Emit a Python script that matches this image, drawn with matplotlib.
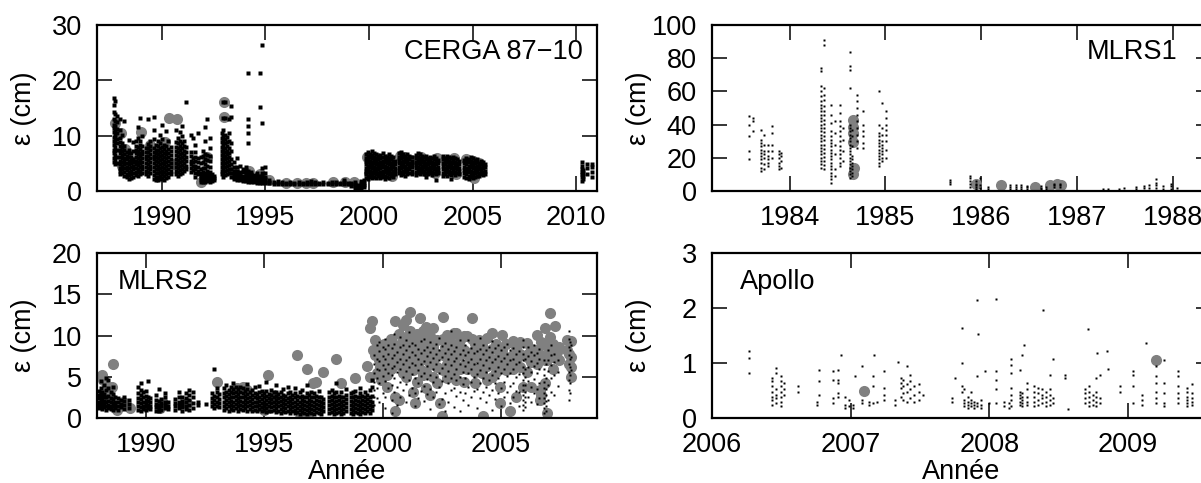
import matplotlib.pyplot as plt

plt.rcParams['font.family'] = ['Liberation Sans', 'DejaVu Sans']

# ---- CERGA 87-10 : (date, [epsilon values in cm]) ----
cerga_cols = [
    (1987.68, [5.2, 6.0, 6.8, 7.5, 8.3, 9.0, 9.8, 10.6, 11.4, 12.0, 13.0, 14.2, 15.5, 16.8]),
    (1987.76, [4.8, 5.6, 6.5, 7.2, 8.0, 8.8, 9.5, 10.2, 11.0, 11.8, 12.6, 14.0, 16.2]),
    (1987.84, [5.0, 6.2, 7.4, 8.6, 9.4, 10.4, 11.2, 12.4, 13.5]),
    (1987.98, [3.0, 3.6, 4.2, 4.9, 5.5, 6.1, 6.8, 7.5, 8.1, 8.8, 9.6, 11.0, 13.0]),
    (1988.08, [3.2, 3.9, 4.6, 5.2, 5.9, 6.5, 7.2, 7.9, 8.6, 10.1]),
    (1988.18, [2.8, 3.5, 4.1, 4.8, 5.4, 6.0, 6.7, 7.4, 8.2, 12.6]),
    (1988.32, [2.5, 3.1, 3.8, 4.4, 5.0, 5.7, 6.3, 7.0]),
    (1988.42, [2.2, 2.9, 3.5, 4.2, 4.8, 5.5, 6.1, 6.8, 7.5, 9.3]),
    (1988.52, [2.4, 3.0, 3.7, 4.3, 5.0, 5.6, 6.2, 6.9]),
    (1988.62, [2.6, 3.2, 3.9, 4.5, 5.2, 5.8, 7.3, 8.8]),
    (1988.76, [2.9, 3.5, 4.2, 4.8, 5.5, 6.1, 6.8, 7.4, 8.2, 9.0]),
    (1988.86, [2.7, 3.4, 4.0, 4.7, 5.3, 6.0, 6.6, 7.3, 8.0, 9.6, 11.5]),
    (1988.96, [3.0, 3.7, 4.3, 5.0, 5.6, 6.3, 6.9, 7.6, 8.3, 9.0, 13.2]),
    (1989.06, [3.3, 4.0, 4.6, 5.3, 5.9, 6.6, 7.3, 8.1, 10.0]),
    (1989.22, [3.0, 3.7, 4.4, 5.0, 5.7, 6.4, 7.1, 7.8]),
    (1989.32, [2.8, 3.5, 4.2, 4.9, 5.6, 6.3, 7.0, 7.7, 8.5, 13.1]),
    (1989.42, [3.2, 3.9, 4.6, 5.3, 6.0, 6.7, 7.4, 8.2, 9.0]),
    (1989.62, [2.2, 2.9, 3.6, 4.3, 5.0, 5.7, 6.4, 7.1, 7.8, 9.4, 11.0, 13.3]),
    (1989.72, [2.0, 2.6, 3.3, 4.0, 4.7, 5.4, 6.1, 6.8, 7.5, 8.3]),
    (1989.82, [1.9, 2.5, 3.2, 3.9, 4.6, 5.3, 6.0, 6.7, 7.4, 8.1, 9.0]),
    (1989.92, [2.1, 2.8, 3.5, 4.2, 4.9, 5.6, 6.3, 7.0, 7.7, 8.6, 10.2]),
    (1990.02, [2.3, 3.0, 3.7, 4.4, 5.1, 5.8, 6.5, 7.2, 8.0, 9.4, 12.0]),
    (1990.12, [2.0, 2.7, 3.4, 4.1, 4.8, 5.5, 6.2, 6.9, 7.6, 8.4]),
    (1990.22, [2.4, 3.1, 3.8, 4.5, 5.2, 5.9, 6.6, 7.3, 8.1, 10.8]),
    (1990.32, [2.6, 3.3, 4.0, 4.7, 5.4, 6.1, 6.8, 7.6, 9.0]),
    (1990.42, [3.0, 3.7, 4.4, 5.1, 5.8, 6.5, 7.3, 8.0]),
    (1990.68, [3.0, 3.7, 4.4, 5.1, 5.8, 6.5, 7.2, 8.0, 8.8, 11.0]),
    (1990.78, [2.8, 3.5, 4.2, 4.9, 5.6, 6.3, 7.0, 7.8, 8.6, 9.6]),
    (1990.88, [3.1, 3.8, 4.5, 5.2, 5.9, 6.6, 7.4, 8.2, 9.1, 10.6]),
    (1990.98, [3.3, 4.0, 4.7, 5.4, 6.1, 6.9, 7.7, 8.6, 10.0, 11.8]),
    (1991.08, [3.6, 4.3, 5.0, 5.7, 6.5, 7.3, 8.1, 9.0]),
    (1991.18, [3.9, 4.6, 5.4, 6.2, 7.0, 8.0, 16.0]),
    (1991.40, [3.4, 4.1, 4.8, 5.5, 6.3, 7.0, 10.2]),
    (1991.50, [3.8, 4.5, 5.2, 6.0, 9.5]),
    (1991.62, [2.5, 3.2, 3.9, 4.6, 5.4, 6.2, 7.0, 8.4]),
    (1991.76, [3.0, 3.7, 4.4, 5.2, 6.0, 10.5]),
    (1991.90, [1.6, 2.0, 2.4, 2.8, 3.3, 4.0, 5.0, 6.1]),
    (1992.00, [1.7, 2.1, 2.5, 2.9, 3.4, 4.2, 5.3, 6.4, 7.2]),
    (1992.10, [1.6, 2.0, 2.4, 2.8, 3.3, 4.1, 4.9, 5.8, 6.6, 9.0, 11.5]),
    (1992.20, [1.8, 2.2, 2.6, 3.0, 3.6, 4.5, 5.6, 6.5, 13.0]),
    (1992.30, [1.7, 2.1, 2.5, 2.9, 3.5, 4.4, 5.4, 6.3, 7.8, 9.6]),
    (1992.42, [1.8, 2.2, 2.6, 3.1]),
    (1992.52, [1.9, 2.3, 2.7]),
    (1992.88, [3.0, 3.7, 4.4, 5.1, 5.8, 6.5, 7.2, 8.0, 8.8, 9.6, 10.4]),
    (1992.96, [2.6, 3.3, 4.0, 4.7, 5.4, 6.1, 6.8, 7.5, 8.3, 9.1, 9.9, 11.0, 13.2, 16.0]),
    (1993.04, [2.9, 3.6, 4.3, 5.0, 5.7, 6.4, 7.1, 7.8, 8.6, 9.4, 10.2, 13.2, 16.0]),
    (1993.12, [3.1, 3.8, 4.5, 5.2, 5.9, 6.6, 7.3, 8.1, 8.9, 9.8]),
    (1993.22, [3.3, 4.0, 4.7, 5.4, 6.1, 6.9, 7.8, 9.0, 10.5, 13.0]),
    (1993.34, [2.6, 3.3, 4.0, 4.8, 5.8, 7.2, 8.6, 13.3, 15.3]),
    (1993.50, [2.1, 2.6, 3.1, 3.7, 4.4, 5.3]),
    (1993.62, [2.0, 2.5, 3.0, 3.6, 4.3, 6.0]),
    (1993.76, [1.9, 2.4, 2.9, 3.5, 4.6]),
    (1993.90, [1.8, 2.3, 2.8, 3.4, 4.0]),
    (1994.04, [1.8, 2.2, 2.7, 3.2, 3.8, 4.4]),
    (1994.18, [1.7, 2.1, 2.6, 3.1, 3.6, 8.7, 10.4, 11.8, 13.0, 21.3]),
    (1994.32, [1.6, 2.0, 2.5, 3.0, 3.5]),
    (1994.46, [1.6, 2.0, 2.4, 2.9]),
    (1994.60, [1.5, 1.9, 2.3, 2.8, 3.3]),
    (1994.72, [1.5, 1.9, 2.3, 2.8, 15.1, 21.3]),
    (1994.84, [1.4, 1.8, 2.2, 2.7, 3.3, 4.2, 12.2, 26.3]),
    (1995.00, [1.4, 1.7, 2.1, 2.6, 3.2, 4.3]),
    (1995.16, [1.4, 1.7, 2.0]),
    (1995.4, [1.3, 1.6]), (1995.6, [1.2, 1.5, 1.8]), (1995.8, [1.3, 1.6]),
    (1996.0, [1.2, 1.5]), (1996.2, [1.3, 1.7]), (1996.4, [1.2, 1.5]),
    (1996.6, [1.3, 1.6]), (1996.8, [1.2, 1.5]), (1997.0, [1.3, 1.6]),
    (1997.2, [1.2, 1.5, 1.8]), (1997.4, [1.3, 1.6]), (1997.6, [1.2, 1.5]),
    (1997.8, [1.3, 1.6]), (1998.0, [1.2, 1.5]), (1998.2, [1.3, 1.7]),
    (1998.4, [1.2, 1.6]), (1998.6, [1.3, 1.5]), (1998.8, [1.2, 1.6, 1.9]),
    (1999.0, [1.3, 1.5]),
    (1999.15, [0.9, 1.2, 1.5]), (1999.3, [0.6, 0.9, 1.2, 1.6]),
    (1999.45, [0.5, 0.8, 1.1]), (1999.6, [0.6, 0.9, 1.3, 1.8]),
    (1999.75, [0.7, 1.0, 1.4, 2.0]),
    (1999.85, [2.4, 3.0, 3.6, 4.2, 4.8, 5.4, 6.0, 6.6]),
    (1999.95, [2.2, 2.8, 3.4, 4.0, 4.6, 5.2, 5.8, 6.4, 7.0]),
    (2000.05, [2.5, 3.1, 3.7, 4.3, 4.9, 5.5, 6.1, 6.7]),
    (2000.15, [2.3, 2.9, 3.5, 4.1, 4.7, 5.3, 5.9, 6.5, 7.3]),
    (2000.25, [2.6, 3.2, 3.8, 4.4, 5.0, 5.6, 6.2, 6.8]),
    (2000.35, [2.4, 3.0, 3.6, 4.2, 4.8, 5.4, 6.0, 6.6]),
    (2000.45, [2.7, 3.3, 3.9, 4.5, 5.1, 5.7, 6.3]),
    (2000.55, [2.3, 2.9, 3.5, 4.1, 4.7, 5.3, 5.9, 6.5]),
    (2000.65, [2.5, 3.1, 3.7, 4.3, 4.9, 5.5, 6.1, 6.8]),
    (2000.75, [2.2, 2.8, 3.4, 4.0, 4.6, 5.2, 5.8, 6.4]),
    (2000.85, [2.6, 3.2, 3.8, 4.4, 5.0, 5.6, 6.2]),
    (2000.95, [2.4, 3.0, 3.6, 4.2, 4.8, 5.4, 6.0, 6.7]),
    (2001.05, [2.7, 3.3, 3.9, 4.5, 5.1, 5.7, 6.3]),
    (2001.15, [2.5, 3.1, 3.7, 4.3, 4.9, 5.5, 6.1]),
    (2001.25, [3.0, 3.6, 4.2, 4.8, 5.4]),
    (2001.45, [3.2, 3.8, 4.4, 5.0, 5.6, 6.2, 6.8]),
    (2001.55, [2.9, 3.5, 4.1, 4.7, 5.3, 5.9, 6.5, 7.0]),
    (2001.65, [3.1, 3.7, 4.3, 4.9, 5.5, 6.1, 6.7]),
    (2001.75, [2.8, 3.4, 4.0, 4.6, 5.2, 5.8, 6.4]),
    (2001.85, [3.0, 3.6, 4.2, 4.8, 5.4, 6.0, 6.6]),
    (2001.95, [3.3, 3.9, 4.5, 5.1, 5.7, 6.3]),
    (2002.05, [3.1, 3.7, 4.3, 4.9, 5.5, 6.1]),
    (2002.25, [2.9, 3.5, 4.1, 4.7, 5.3, 5.9, 6.5]),
    (2002.35, [3.2, 3.8, 4.4, 5.0, 5.6, 6.2, 6.9]),
    (2002.45, [3.0, 3.6, 4.2, 4.8, 5.4, 6.0, 6.6]),
    (2002.55, [3.4, 4.0, 4.6, 5.2, 5.8, 6.4]),
    (2002.65, [3.1, 3.7, 4.3, 4.9, 5.5, 6.1]),
    (2002.75, [2.6, 3.3, 3.9, 4.5, 5.1, 5.7, 6.3]),
    (2002.85, [3.0, 3.6, 4.2, 4.8, 5.4, 6.0]),
    (2002.95, [3.2, 3.8, 4.4, 5.0, 5.6, 6.2]),
    (2003.05, [2.9, 3.5, 4.1, 4.7, 5.3, 5.9]),
    (2003.15, [3.3, 3.9, 4.5, 5.1, 5.7, 6.3]),
    (2003.25, [1.9, 3.0, 3.6, 4.2, 4.8, 5.4, 6.0]),
    (2003.35, [3.2, 3.8, 4.4, 5.0, 5.6]),
    (2003.55, [2.7, 3.3, 3.9, 4.5, 5.1, 5.7, 6.3]),
    (2003.65, [3.0, 3.6, 4.2, 4.8, 5.4, 6.0]),
    (2003.75, [2.8, 3.4, 4.0, 4.6, 5.2, 5.8, 6.4]),
    (2003.85, [3.1, 3.7, 4.3, 4.9, 5.5, 6.1]),
    (2003.95, [2.2, 2.9, 3.5, 4.1, 4.7, 5.3, 5.9]),
    (2004.05, [3.2, 3.8, 4.4, 5.0, 5.6, 6.2]),
    (2004.15, [2.9, 3.5, 4.1, 4.7, 5.3, 5.9]),
    (2004.25, [3.3, 3.9, 4.5, 5.1, 5.7]),
    (2004.35, [3.0, 3.6, 4.2, 4.8, 5.4]),
    (2004.6, [2.6, 3.2, 3.8, 4.4, 5.0, 5.6]),
    (2004.7, [2.4, 3.0, 3.6, 4.2, 4.8, 5.4, 6.0]),
    (2004.8, [2.2, 2.8, 3.4, 4.0, 4.6, 5.2, 5.8]),
    (2004.9, [2.5, 3.1, 3.7, 4.3, 4.9, 5.5, 6.1]),
    (2005.0, [2.3, 2.9, 3.5, 4.1, 4.7, 5.3, 5.9]),
    (2005.1, [2.6, 3.2, 3.8, 4.4, 5.0, 5.6]),
    (2005.2, [2.8, 3.4, 4.0, 4.6, 5.2, 5.8]),
    (2005.3, [2.7, 3.3, 3.9, 4.5, 5.1]),
    (2005.4, [3.0, 3.6, 4.2, 4.8, 5.4]),
    (2005.5, [2.9, 3.5, 4.1, 4.7, 5.3]),
    (2005.6, [3.1, 3.7, 4.3, 4.9]),
    (2010.28, [1.8, 2.5, 3.0, 3.5, 4.0, 4.6, 5.3]),
    (2010.32, [2.2, 2.8, 3.3, 3.8]),
    (2010.5, [3.0, 4.2, 4.8]),
    (2010.78, [2.5, 3.4, 4.3, 4.9]),
]
cerga_grey_t = [1987.75, 1988.03, 1988.2, 1988.08, 1989.0, 1989.43, 1988.77, 1990.33,
                1990.74, 1990.16, 1989.75, 1990.0, 1990.57, 1991.9, 1992.2, 1993.0,
                1993.0, 1993.5, 1994.2, 1994.75, 1995.15, 1996.0, 1996.5, 1996.97,
                1997.3, 1998.28, 1998.85, 1999.26,
                1999.9, 2000.0, 2000.1, 2000.4, 2000.5, 2000.9, 2001.1, 2001.5, 2001.7,
                2002.0, 2002.5, 2002.6, 2002.7, 2003.2, 2003.3, 2003.7, 2004.1, 2004.2,
                2004.7, 2005.0, 2005.05, 2005.3]
cerga_grey_e = [12.3, 10.4, 7.6, 4.5, 10.7, 8.4, 5.5, 13.2,
                13.0, 8.9, 6.1, 3.7, 4.9, 1.6, 6.1, 16.1,
                13.3, 3.6, 3.7, 3.0, 1.9, 1.5, 1.5, 1.5,
                1.5, 1.6, 1.6, 1.7,
                6.2, 3.3, 4.6, 5.9, 3.0, 5.8, 2.7, 6.4, 6.2,
                5.6, 6.1, 4.8, 3.6, 3.2, 5.9, 5.5, 6.0, 3.0,
                5.7, 5.4, 2.3, 5.0]

# ---- MLRS1 ----
mlrs1_cols = [
    (1983.58, [19.5, 24, 33, 40, 45]),
    (1983.62, [36, 42, 44]),
    (1983.70, [12, 14, 17, 19, 21, 23, 25, 27, 29, 31, 37]),
    (1983.73, [13, 16, 20, 22, 24, 28, 34]),
    (1983.77, [15, 17, 19, 21, 24, 28]),
    (1983.82, [20, 24, 28, 35, 39]),
    (1983.89, [13, 15, 17, 20, 22, 24]),
    (1983.91, [14, 18, 21, 23]),
    (1984.33, [14, 16, 18, 20, 22, 24, 26, 28, 30, 32, 34, 36, 38, 40, 42, 44, 46, 48,
               50, 52, 54, 57, 60, 63, 72, 74]),
    (1984.36, [13, 15.5, 18, 20.5, 23, 25.5, 28, 30.5, 33, 35.5, 38, 40.5, 43, 45.5,
               48, 51, 55, 58, 62, 88, 91]),
    (1984.43, [5, 7, 9, 11, 13, 15, 17, 19, 21, 23, 25, 27, 29, 31, 33, 36, 41, 46, 52]),
    (1984.47, [9, 13, 22, 28, 35, 42]),
    (1984.53, [15, 17, 20, 22, 25, 27, 30, 33, 36, 39, 42, 47, 52]),
    (1984.56, [18, 24, 31, 38]),
    (1984.63, [8, 10, 12, 14, 16, 18, 20, 22, 24, 26, 28, 30, 32, 34, 36, 38, 40,
               62, 73, 75, 84]),
    (1984.65, [9, 11, 13, 15, 17, 19, 21, 27, 33, 37]),
    (1984.70, [26, 30, 34, 38, 42, 46, 50, 54, 58]),
    (1984.77, [26, 29, 33, 36, 40, 48]),
    (1984.93, [15, 17, 19, 21, 23, 25, 27, 29, 31, 33, 35, 40, 60]),
    (1984.96, [18, 20, 22, 24, 26, 28, 30, 34, 38, 53]),
    (1985.01, [20, 25, 30, 34, 37, 40, 44, 48]),
    (1985.67, [4, 5.5, 6.5]),
    (1985.88, [2.5, 4.5, 6, 8, 9]),
    (1985.95, [1.5, 2.5, 3.5, 4.5, 6]),
    (1985.99, [2, 3.5, 8]),
    (1986.07, [1.5, 2.5]),
    (1986.30, [1.5, 2.5, 3.5]), (1986.36, [1.5, 2.5, 3.5]),
    (1986.42, [1.5, 2.5, 3.5]), (1986.48, [1.5, 2.5, 3]),
    (1986.62, [1.5, 2, 3]), (1986.68, [1.5, 2.5]),
    (1986.76, [2.5, 3.5, 4.5]), (1986.82, [2.5, 3.5, 4.5]),
    (1987.27, [1.2]), (1987.32, [1.5]), (1987.44, [1.5]), (1987.49, [2]),
    (1987.62, [1.5, 2.5]), (1987.70, [1.8, 3]), (1987.75, [2, 3.5]),
    (1987.83, [2, 3.5, 5, 7]), (1987.90, [1.5, 3]),
    (1987.98, [1.5, 3, 4.5]), (1988.05, [2]),
]
mlrs1_grey_t = [1984.66, 1984.66, 1984.66, 1984.66, 1984.67, 1984.66,
                1985.95, 1986.21, 1986.56, 1986.72, 1986.79, 1986.83]
mlrs1_grey_e = [42.8, 38.5, 35, 29.5, 13.7, 10.5, 4.4, 3.6, 2.2, 3.6, 4.2, 3.8]

# ---- MLRS2 ----
mlrs2_cols = [
    (1988.02, [1.2, 1.6, 2.0, 2.4, 2.8, 3.3]),
    (1988.10, [1.4, 1.8, 2.2, 2.6, 3.0, 3.6, 4.5]),
    (1988.18, [1.1, 1.5, 1.9, 2.3, 2.7, 3.2]),
    (1988.26, [1.3, 1.7, 2.1, 2.5, 2.9, 4.0]),
    (1988.34, [1.0, 1.5, 2.0, 2.6, 3.4, 4.8]),
    (1988.42, [1.2, 1.6, 2.1, 2.7, 3.6, 4.6]),
    (1988.52, [1.1, 1.5, 1.9, 2.4, 3.1]),
    (1988.62, [1.0, 1.4, 1.8, 2.3, 2.9, 3.8]),
    (1988.72, [1.2, 1.6, 2.0, 2.6]),
    (1988.84, [1.0, 1.5, 1.9, 2.4]),
    (1988.96, [1.3, 1.7, 2.2]),
    (1989.10, [1.1, 1.6, 2.1, 2.6]),
    (1989.30, [1.2, 1.7, 2.2]),
    (1989.70, [1.0, 1.4, 1.9, 2.4, 3.0, 3.8]),
    (1989.80, [0.9, 1.3, 1.8, 2.3, 2.8, 3.4, 4.2]),
    (1989.90, [1.1, 1.5, 2.0, 2.5, 3.1]),
    (1990.00, [1.0, 1.4, 1.8, 2.2, 2.7, 3.3]),
    (1990.10, [1.2, 1.6, 2.1, 2.6, 4.5]),
    (1990.20, [1.1, 1.5, 1.9, 2.4]),
    (1990.45, [0.9, 1.3, 1.7, 2.2, 2.8]),
    (1990.55, [0.8, 1.2, 1.6, 2.1, 3.5]),
    (1990.65, [1.0, 1.4, 1.8, 2.3]),
    (1990.80, [1.2, 1.6, 2.0, 2.6, 3.0]),
    (1990.95, [1.1, 1.5, 1.9]),
    (1991.25, [1.0, 1.4, 1.8, 2.3]),
    (1991.40, [1.2, 1.6, 2.0, 2.5, 3.1]),
    (1991.55, [0.9, 1.3, 1.7, 2.1, 2.6]),
    (1991.70, [1.1, 1.5, 1.9, 2.4, 3.0]),
    (1991.85, [1.0, 1.6, 2.2, 2.8, 3.4]),
    (1992.00, [1.2, 1.8, 2.5, 3.2]),
    (1992.20, [1.6, 2.0]),
    (1992.55, [1.7]),
    (1992.80, [1.4, 1.9, 2.4, 3.0]),
    (1992.90, [1.2, 1.7, 2.2, 2.7, 6.0]),
    (1993.00, [1.5, 2.0, 2.5, 3.1, 3.6]),
    (1993.10, [1.3, 1.8, 2.3, 2.9]),
    (1993.3, [1.0, 1.5, 2.0, 2.5, 3.0, 3.6]),
    (1993.4, [1.2, 1.7, 2.2, 2.7, 3.2, 4.0]),
    (1993.5, [0.9, 1.4, 1.9, 2.4, 2.9, 3.4]),
    (1993.6, [1.1, 1.6, 2.1, 2.6, 3.1, 3.7]),
    (1993.7, [1.0, 1.5, 2.0, 2.5, 3.0, 3.5, 4.2]),
    (1993.8, [1.2, 1.7, 2.2, 2.7, 3.2, 3.8]),
    (1993.9, [0.9, 1.4, 1.9, 2.4, 2.9, 3.5]),
    (1994.0, [1.1, 1.6, 2.1, 2.6, 3.1, 3.7]),
    (1994.1, [1.0, 1.5, 2.0, 2.5, 3.0, 3.6]),
    (1994.2, [1.2, 1.7, 2.2, 2.7, 3.3]),
    (1994.3, [0.9, 1.4, 1.9, 2.4, 2.9, 3.5, 4.1]),
    (1994.4, [1.1, 1.6, 2.1, 2.6, 3.1]),
    (1994.5, [0.8, 1.3, 1.8, 2.3, 2.8, 3.4]),
    (1994.6, [1.0, 1.5, 2.0, 2.5, 3.0, 3.7]),
    (1994.7, [0.9, 1.4, 1.9, 2.4, 2.9]),
    (1994.8, [1.1, 1.6, 2.1, 2.6, 3.2, 3.9]),
    (1994.9, [0.8, 1.3, 1.8, 2.3, 2.8, 3.3]),
    (1995.0, [1.0, 1.5, 2.0, 2.5, 3.0]),
    (1995.1, [0.7, 1.2, 1.7, 2.2, 2.7, 3.3, 4.4]),
    (1995.2, [0.9, 1.4, 1.9, 2.4, 2.9]),
    (1995.3, [0.8, 1.3, 1.8, 2.3, 2.8, 3.4]),
    (1995.4, [1.0, 1.5, 2.0, 2.5, 3.1]),
    (1995.5, [0.7, 1.2, 1.7, 2.2, 2.7, 3.2, 4.0]),
    (1995.6, [0.9, 1.4, 1.9, 2.4, 2.9]),
    (1995.7, [0.6, 1.1, 1.6, 2.1, 2.6, 3.1]),
    (1995.8, [0.8, 1.3, 1.8, 2.3, 2.8, 3.5]),
    (1995.9, [0.7, 1.2, 1.7, 2.2, 2.7]),
    (1996.0, [0.9, 1.4, 1.9, 2.4, 3.0, 3.8]),
    (1996.1, [0.6, 1.1, 1.6, 2.1, 2.6, 3.2]),
    (1996.2, [0.8, 1.3, 1.8, 2.3, 2.8]),
    (1996.3, [0.6, 1.0, 1.5, 2.0, 2.5, 3.0, 3.6]),
    (1996.4, [0.7, 1.2, 1.7, 2.2, 2.7]),
    (1996.5, [0.5, 1.0, 1.5, 2.0, 2.5, 3.1]),
    (1996.6, [0.7, 1.2, 1.7, 2.2, 2.7, 3.4]),
    (1996.7, [0.6, 1.1, 1.6, 2.1, 2.6]),
    (1996.8, [0.5, 1.0, 1.5, 2.0, 2.5, 3.0, 4.0]),
    (1996.9, [0.7, 1.2, 1.7, 2.2, 2.8]),
    (1997.0, [0.6, 1.1, 1.6, 2.1, 2.6, 3.2]),
    (1997.1, [0.5, 1.0, 1.5, 2.0, 2.5, 3.0]),
    (1997.2, [0.7, 1.2, 1.7, 2.2, 2.7]),
    (1997.3, [0.6, 1.1, 1.6, 2.1, 2.6, 3.3]),
    (1997.4, [0.5, 1.0, 1.5, 2.0, 2.5]),
    (1997.5, [0.8, 1.3, 1.8, 2.3]),
    (1997.75, [0.6, 1.1, 1.6, 2.1, 2.6, 3.1]),
    (1997.85, [0.7, 1.2, 1.7, 2.2, 2.7, 3.4]),
    (1997.95, [0.5, 1.0, 1.5, 2.0, 2.5, 3.0]),
    (1998.05, [0.6, 1.1, 1.6, 2.1, 2.6, 3.2, 4.2]),
    (1998.15, [0.7, 1.2, 1.7, 2.2, 2.7]),
    (1998.25, [0.5, 1.0, 1.5, 2.0, 2.5, 3.1]),
    (1998.35, [0.6, 1.1, 1.6, 2.1, 2.6]),
    (1998.45, [0.8, 1.3, 1.8, 2.3, 2.8, 3.5]),
    (1998.65, [0.6, 1.1, 1.6, 2.1, 2.6, 3.0]),
    (1998.75, [0.5, 1.0, 1.5, 2.0, 2.5, 3.1]),
    (1998.85, [0.7, 1.2, 1.7, 2.2, 2.7, 3.3]),
    (1998.95, [0.6, 1.1, 1.6, 2.1, 2.6]),
    (1999.05, [0.5, 1.0, 1.5, 2.0, 2.5, 3.0, 3.6]),
    (1999.15, [0.7, 1.2, 1.7, 2.2, 2.7]),
    (1999.25, [0.6, 1.1, 1.6, 2.1, 2.6, 3.2]),
    (1999.35, [0.8, 1.3, 1.8, 2.3, 2.8]),
    (1999.45, [0.6, 1.1, 1.6, 2.1, 2.6, 3.4]),
    (1999.55, [1.0, 1.5, 2.0, 2.7, 3.8, 4.6]),
    (1999.65, [1.6, 2.6, 3.4, 4.4, 5.4, 6.6, 7.6]),
    (1999.75, [2.4, 3.6, 4.8, 6.0, 7.2, 8.8]),
    (1999.85, [2.0, 4.2, 5.8, 6.9, 8.1, 9.2]),
    (2000.0, [3.0, 5.1, 6.4, 7.5, 8.6]),
    (2000.12, [1.2, 2.6, 4.5, 6.0, 7.2, 8.4, 9.6]),
    (2000.25, [3.6, 5.4, 6.6, 7.8, 8.9]),
    (2000.38, [0.6, 2.2, 4.0, 5.2, 6.1, 7.3, 8.5]),
    (2000.5, [3.2, 4.8, 6.3, 7.6, 9.0, 10.2]),
    (2000.62, [1.6, 3.8, 5.6, 6.8, 8.0]),
    (2000.75, [2.6, 4.4, 5.9, 7.1, 8.6, 9.8]),
    (2000.88, [3.4, 5.0, 6.5, 7.7, 8.9]),
    (2001.0, [1.9, 4.1, 5.7, 7.0, 8.3, 9.5]),
    (2001.12, [2.8, 4.6, 6.2, 7.4, 8.7, 10.4]),
    (2001.25, [3.6, 5.3, 6.7, 8.0, 9.1]),
    (2001.38, [1.4, 3.0, 4.9, 6.4, 7.6, 8.8]),
    (2001.5, [2.4, 4.3, 5.8, 7.2, 8.4]),
    (2001.62, [3.3, 5.1, 6.6, 7.9, 9.3]),
    (2001.75, [2.1, 3.9, 5.5, 6.9, 8.2, 9.6]),
    (2001.88, [2.9, 4.7, 6.3, 7.5, 8.6]),
    (2002.0, [1.1, 3.5, 5.2, 6.8, 8.0, 9.2]),
    (2002.12, [2.6, 4.4, 5.9, 7.3, 8.5]),
    (2002.25, [3.2, 5.0, 6.5, 7.8, 9.0]),
    (2002.38, [1.7, 3.8, 5.4, 7.0, 8.3, 9.7]),
    (2002.5, [2.3, 4.5, 6.1, 7.4, 8.7]),
    (2002.62, [0.8, 3.0, 5.1, 6.6, 7.9, 9.1]),
    (2002.75, [2.0, 4.2, 5.7, 7.1, 8.4]),
    (2002.88, [3.4, 4.9, 6.4, 7.7, 8.9, 10.6]),
    (2003.0, [1.3, 3.6, 5.3, 6.9, 8.1]),
    (2003.12, [2.7, 4.6, 6.0, 7.3, 8.6]),
    (2003.25, [0.9, 3.1, 5.0, 6.5, 7.8, 9.4]),
    (2003.38, [2.2, 4.1, 5.6, 7.0, 8.2]),
    (2003.5, [3.0, 4.8, 6.3, 7.6, 8.8]),
    (2003.62, [1.6, 3.7, 5.5, 6.8, 8.0, 9.5]),
    (2003.75, [2.5, 4.4, 5.9, 7.2, 8.5]),
    (2003.88, [3.3, 5.0, 6.6, 7.9, 9.0]),
    (2004.0, [1.2, 3.5, 5.3, 6.7, 8.1]),
    (2004.12, [2.4, 4.3, 5.8, 7.1, 8.4, 9.7]),
    (2004.25, [3.1, 4.9, 6.4, 7.7, 8.9]),
    (2004.38, [1.9, 3.8, 5.6, 7.0, 8.3]),
    (2004.5, [2.8, 4.6, 6.1, 7.4, 8.6]),
    (2004.62, [1.0, 3.4, 5.2, 6.8, 8.0, 9.3]),
    (2004.75, [2.3, 4.2, 5.7, 7.2, 8.5]),
    (2004.88, [3.0, 4.8, 6.2, 7.5, 8.8]),
    (2005.0, [1.5, 3.6, 5.4, 6.9, 8.2]),
    (2005.12, [2.6, 4.4, 6.0, 7.3, 8.6]),
    (2005.25, [3.2, 5.1, 6.6, 7.8, 9.0]),
    (2005.38, [1.8, 3.9, 5.5, 7.0, 8.3]),
    (2005.5, [2.5, 4.3, 5.9, 7.2, 8.5]),
    (2005.62, [3.3, 5.0, 6.5, 7.7]),
    (2005.75, [1.4, 3.1, 5.3, 6.8, 8.1]),
    (2005.92, [1.0, 1.6, 2.2, 2.8, 3.4, 4.0, 4.6, 5.4, 6.2, 7.0, 7.8, 8.6, 9.5]),
    (2006.0, [1.3, 2.0, 2.6, 3.2, 4.0, 5.0, 6.0, 7.2]),
    (2006.12, [2.6, 4.5, 6.2, 7.5, 8.6]),
    (2006.25, [2.0, 3.8, 5.6, 6.9, 8.0]),
    (2006.38, [3.0, 4.7, 6.3, 7.6, 8.8]),
    (2006.5, [1.7, 3.5, 5.4, 6.7, 7.9]),
    (2006.62, [2.4, 4.2, 5.9, 7.2, 8.4]),
    (2006.8, [0.6, 1.2, 1.8, 2.4, 3.0, 3.6, 4.4, 5.2, 6.0, 7.0]),
    (2006.88, [0.8, 1.5, 2.1, 2.8, 3.5, 4.8, 6.5]),
    (2007.0, [2.2, 4.0, 5.7, 7.0, 8.3]),
    (2007.12, [3.1, 4.8, 6.4, 7.6, 8.9]),
    (2007.25, [2.8, 5.2, 6.8, 7.8]),
    (2007.4, [3.9, 5.6, 7.0]),
    (2007.85, [2.2, 3.4, 4.6, 5.6, 6.6, 7.6, 8.6, 9.6, 10.5]),
    (2007.9, [3.0, 4.2, 5.2, 6.2, 7.2, 8.2, 9.2]),
    (2007.95, [5.8, 7.4, 8.8]),
]
mlrs2_grey_t = [1988.15, 1988.2, 1988.64, 1988.6, 1988.36, 1988.5, 1988.78, 1989.06,
                1989.34, 1988.25, 1990.61, 1990.75, 1991.73, 1993.0, 1993.84, 1994.12,
                1994.3, 1995.18, 1995.39, 1995.0, 1996.37, 1996.8, 1996.5, 1996.85,
                1997.08, 1997.19, 1997.48, 1998.05, 1998.25, 1998.84, 1999.33, 1999.45,
                1999.54, 1999.48, 1999.68, 1999.82, 1999.7, 1999.85, 1999.6, 1999.9,
                1999.75, 1999.95,
                2000.05, 2000.05, 2000.05, 2000.2, 2000.2, 2000.2, 2000.2,
                2000.35, 2000.35, 2000.35, 2000.52, 2000.52, 2000.52, 2000.52, 2000.52,
                2000.68, 2000.68, 2000.68, 2000.68, 2000.85, 2000.85, 2000.85, 2000.85,
                2001.0, 2001.0, 2001.0, 2001.0, 2001.0, 2001.16, 2001.16, 2001.16, 2001.16,
                2001.3, 2001.3, 2001.3, 2001.3, 2001.37, 2001.45, 2001.45, 2001.45, 2001.45,
                2001.58, 2001.58, 2001.58, 2001.58, 2001.72, 2001.72, 2001.72, 2001.72,
                2001.85, 2001.85, 2001.85, 2001.85, 2001.85, 2002.0, 2002.0, 2002.0, 2002.0,
                2002.15, 2002.15, 2002.15, 2002.15, 2002.3, 2002.3, 2002.3, 2002.3,
                2002.42, 2002.49, 2002.56, 2002.56, 2002.56, 2002.56,
                2002.7, 2002.7, 2002.7, 2002.7, 2002.85, 2002.85, 2002.85,
                2003.0, 2003.0, 2003.0, 2003.0, 2003.12, 2003.12, 2003.12, 2003.12,
                2003.28, 2003.28, 2003.28, 2003.42, 2003.42, 2003.42, 2003.42,
                2003.55, 2003.55, 2003.55, 2003.76, 2003.76, 2003.76, 2003.76,
                2003.9, 2003.9, 2003.9, 2003.9, 2004.05, 2004.05, 2004.05,
                2004.2, 2004.2, 2004.2, 2004.25, 2004.39, 2004.39, 2004.39, 2004.39,
                2004.6, 2004.6, 2004.6, 2004.6, 2004.8, 2004.8, 2004.8, 2004.95, 2004.95,
                2005.02, 2005.02, 2005.02, 2005.2, 2005.2, 2005.2, 2005.38,
                2005.52, 2005.52, 2005.52, 2005.65, 2005.65, 2005.65,
                2005.8, 2005.8, 2005.8, 2005.94, 2006.08, 2006.08, 2006.08,
                2006.25, 2006.25, 2006.25, 2006.5, 2006.5, 2006.5, 2006.64, 2006.64,
                2006.7, 2006.7, 2006.7, 2006.85, 2006.85, 2006.85, 2006.85, 2006.92,
                2007.06, 2007.06, 2007.06, 2007.2, 2007.2, 2007.2, 2007.27,
                2007.45, 2007.45, 2007.77, 2007.77, 2007.95, 2007.95, 2007.95, 2007.95,
                2007.85, 2007.85,
                2000.12, 2000.45, 2000.78, 2001.08, 2001.52, 2001.92, 2002.22, 2002.62,
                2003.06, 2003.35, 2003.68, 2004.12, 2004.5, 2004.9, 2005.3, 2005.72,
                2006.15, 2006.4, 2006.95, 2007.35]
mlrs2_grey_e = [5.2, 4.6, 6.5, 3.8, 3.8, 2.6, 1.0, 2.0,
                1.2, 3.2, 1.2, 1.8, 1.8, 4.4, 3.6, 3.8,
                3.4, 5.2, 2.6, 1.0, 7.6, 6.0, 0.0, 0.0,
                4.2, 4.4, 5.6, 7.2, 4.2, 4.8, 6.3, 5.0,
                11.7, 10.9, 9.5, 8.6, 7.6, 7.0, 8.2, 6.2,
                5.4, 4.6,
                9.0, 7.4, 5.8, 8.3, 6.6, 5.2, 3.8,
                9.6, 7.8, 6.0, 11.7, 8.8, 7.0, 2.6, 0.8,
                10.2, 8.0, 6.4, 2.2, 11.3, 9.2, 7.2, 5.4,
                11.9, 9.8, 8.2, 6.6, 5.0, 12.9, 10.6, 8.6, 7.0,
                9.4, 7.6, 5.8, 3.2, 1.8, 10.2, 8.4, 6.8, 4.4,
                12.1, 9.6, 7.8, 6.0, 10.6, 8.8, 7.2, 5.2,
                11.0, 9.2, 7.4, 5.6, 3.6, 10.0, 8.2, 6.6, 2.8,
                10.9, 8.6, 6.9, 5.0, 9.4, 7.8, 6.2, 4.2,
                1.8, 0.2, 12.3, 9.6, 7.6, 5.8,
                10.1, 8.4, 6.6, 4.8, 9.2, 7.4, 5.6,
                10.3, 8.6, 6.8, 5.0, 10.3, 8.0, 6.2, 4.6,
                9.4, 7.6, 5.9, 9.9, 8.2, 6.4, 4.4,
                9.9, 7.8, 6.0, 12.1, 9.6, 8.0, 6.2,
                9.0, 7.4, 5.6, 4.2, 9.5, 7.8, 6.0,
                8.8, 7.0, 5.4, 0.2, 9.7, 8.0, 6.3, 4.6,
                10.3, 8.4, 6.6, 5.0, 9.0, 7.2, 5.6, 3.8, 1.8,
                10.1, 8.2, 6.4, 9.0, 7.4, 5.8, 0.8,
                9.3, 7.6, 6.0, 8.6, 7.0, 2.6,
                9.2, 7.8, 6.2, 3.8, 9.1, 7.4, 5.6,
                8.4, 6.8, 3.8, 10.1, 8.2, 6.6, 2.2, 3.4,
                9.2, 7.6, 2.8, 10.9, 8.8, 7.0, 4.2, 0.6,
                12.7, 9.8, 8.0, 9.0, 7.4, 6.0, 11.1,
                8.6, 7.0, 9.5, 8.2, 9.3, 7.4, 6.2, 5.0,
                7.8, 6.6,
                8.0, 6.8, 9.0, 7.4, 8.9, 8.1, 7.6, 8.6,
                7.2, 8.4, 7.0, 8.0, 7.3, 8.1, 7.0, 7.6,
                7.8, 7.2, 7.0, 8.0]

# ---- Apollo ----
apollo_cols = [
    (2006.27, [0.82, 1.09, 1.21]),
    (2006.43, [0.24, 0.33, 0.39, 0.48, 0.58, 0.67, 0.73]),
    (2006.46, [0.27, 0.36, 0.42, 0.52, 0.82, 0.91]),
    (2006.50, [0.21, 0.30, 0.39, 0.48, 0.58, 0.67, 0.76]),
    (2006.52, [0.42, 0.52, 0.64]),
    (2006.62, [0.48, 0.58]),
    (2006.76, [0.24, 0.30]),
    (2006.77, [0.42, 0.67, 0.88]),
    (2006.87, [0.27, 0.36, 0.70, 0.85]),
    (2006.91, [0.39, 0.45, 0.64, 0.70, 0.88]),
    (2006.93, [1.15]),
    (2006.96, [0.18, 0.24, 0.39]),
    (2006.99, [0.21, 0.33]),
    (2007.02, [0.18, 0.24]),
    (2007.03, [0.76]),
    (2007.08, [0.27, 0.33, 0.94]),
    (2007.13, [0.24, 0.30]),
    (2007.16, [0.27, 0.58, 0.76]),
    (2007.17, [1.15]),
    (2007.19, [0.30]),
    (2007.24, [0.33, 0.42, 0.55, 0.85]),
    (2007.32, [0.24, 0.33]),
    (2007.34, [1.02]),
    (2007.36, [0.39, 0.55, 0.64, 0.73]),
    (2007.38, [0.33, 0.45, 0.58, 0.70]),
    (2007.41, [0.30, 0.48, 0.61, 0.95]),
    (2007.43, [0.36, 0.52, 0.67, 0.79]),
    (2007.46, [0.30, 0.42, 0.58]),
    (2007.49, [0.33, 0.48, 0.61]),
    (2007.52, [0.42]),
    (2007.73, [0.30, 0.36]),
    (2007.75, [0.73]),
    (2007.80, [0.48, 0.58, 1.00, 1.64]),
    (2007.82, [0.21, 0.27, 0.33, 0.52]),
    (2007.85, [0.18, 0.24, 0.30, 0.39]),
    (2007.87, [0.21, 0.27, 0.33, 0.48]),
    (2007.89, [0.18, 0.24, 0.30]),
    (2007.91, [0.21, 0.27, 0.76, 2.15]),
    (2007.92, [1.53]),
    (2007.94, [0.18, 0.24, 0.33]),
    (2007.97, [0.85]),
    (2008.00, [0.27]),
    (2008.05, [0.27, 0.52, 0.70, 0.85, 2.16]),
    (2008.11, [0.21, 0.30]),
    (2008.14, [0.18, 0.27]),
    (2008.16, [0.21, 0.33, 0.42, 0.55, 0.82, 0.97, 1.07]),
    (2008.22, [0.24, 0.30, 0.36, 0.42, 0.48, 0.88]),
    (2008.24, [0.21, 0.27, 0.33, 0.39, 0.45, 1.15]),
    (2008.25, [1.32]),
    (2008.27, [0.24, 0.30, 0.39, 0.52, 0.64]),
    (2008.32, [0.21, 0.30, 0.39, 0.48, 0.58]),
    (2008.35, [0.24, 0.33, 0.45, 0.55]),
    (2008.38, [0.27, 0.36, 0.42, 0.52]),
    (2008.39, [1.96]),
    (2008.41, [0.21, 0.30, 0.39, 0.48]),
    (2008.44, [0.24, 0.33, 0.42, 0.52, 0.79]),
    (2008.46, [0.27, 0.36, 1.07]),
    (2008.55, [0.73, 0.79]),
    (2008.57, [0.16]),
    (2008.69, [0.27, 0.36, 0.45, 0.52]),
    (2008.71, [1.61]),
    (2008.72, [0.21, 0.30, 0.39, 0.48, 0.58]),
    (2008.75, [0.24, 0.33, 0.42]),
    (2008.77, [0.21, 0.30, 0.39, 0.48, 0.73]),
    (2008.78, [1.18]),
    (2008.80, [0.27, 0.36, 0.79]),
    (2008.85, [1.22]),
    (2008.86, [0.89]),
    (2008.94, [0.48, 0.58]),
    (2009.04, [0.27, 0.58, 0.79, 0.86]),
    (2009.10, [0.24, 0.33, 0.42]),
    (2009.13, [1.36]),
    (2009.20, [0.27, 0.36, 0.48, 0.64, 0.76, 0.94]),
    (2009.26, [0.21, 0.27, 0.45, 0.64, 1.05]),
    (2009.36, [0.27, 0.36, 0.45, 0.58, 0.76, 0.85]),
    (2009.43, [0.21, 0.27, 0.33, 0.39, 0.48, 0.55]),
    (2009.46, [0.24, 0.30, 0.36, 0.45, 0.61]),
]
apollo_grey_t = [2007.1, 2009.2]
apollo_grey_e = [0.5, 1.06]


def flatten(cols):
    xs, ys = [], []
    for t, vals in cols:
        for v in vals:
            xs.append(t)
            ys.append(v)
    return xs, ys


fig = plt.figure(figsize=(12.01, 4.83), dpi=100)
W, H = 1201.0, 483.0
FS = 19.5


def make_ax(x0, x1, ytop, ybot):
    return fig.add_axes([x0 / W, (H - ybot) / H, (x1 - x0) / W, (ybot - ytop) / H])


# dot size: (before split date, after split date) -- the MLRS2 cloud after 2000 is sparser
panels = [
    # axes box (px), data, grey, xlim, ylim, xticks, yticks, label, label pos, ha, dot sizes
    ((97, 597, 25, 191), cerga_cols, cerga_grey_t, cerga_grey_e, (1986.87, 2011.0), (0, 30),
     [1990, 1995, 2000, 2005, 2010], [0, 10, 20, 30], 'CERGA 87\u221210', (0.972, 0.837),
     'right', (2.6, 2.6)),
    ((712, 1211, 25, 191), mlrs1_cols, mlrs1_grey_t, mlrs1_grey_e, (1983.19, 1988.40), (0, 100),
     [1984, 1985, 1986, 1987, 1988], [0, 20, 40, 60, 80, 100], 'MLRS1', (0.932, 0.837),
     'right', (2.0, 2.0)),
    ((97, 597, 253, 418), mlrs2_cols, mlrs2_grey_t, mlrs2_grey_e, (1987.95, 2009.05), (0, 20),
     [1990, 1995, 2000, 2005], [0, 5, 10, 15, 20], 'MLRS2', (0.042, 0.824), 'left',
     (2.4, 1.6)),
    ((712, 1211, 253, 418), apollo_cols, apollo_grey_t, apollo_grey_e, (2006.0, 2009.6), (0, 3),
     [2006, 2007, 2008, 2009], [0, 1, 2, 3], 'Apollo', (0.056, 0.824), 'left', (2.0, 2.0)),
]
split_date = 1999.6

for i, (box, cols, gt, ge, xl, yl, xt, yt, name, pos, ha, dots) in enumerate(panels):
    ax = make_ax(*box)
    ax.plot(gt, ge, 'o', color='#808080', ms=8.0, mec='none', zorder=2)
    bx, by = flatten(cols)
    early = [(x, y) for x, y in zip(bx, by) if x < split_date]
    late = [(x, y) for x, y in zip(bx, by) if x >= split_date]
    for pts, ms in ((early, dots[0]), (late, dots[1])):
        if pts:
            ax.plot([p[0] for p in pts], [p[1] for p in pts], 's', color='black',
                    ms=ms, mec='none', zorder=3, antialiased=False)
    ax.set_xlim(*xl)
    ax.set_ylim(*yl)
    ax.set_xticks(xt)
    ax.set_yticks(yt)
    ax.tick_params(direction='in', length=11, width=1.1, top=True, right=True,
                   labelsize=FS)
    ax.tick_params(axis='x', pad=10)
    ax.tick_params(axis='y', pad=11)
    for sp in ax.spines.values():
        sp.set_linewidth(1.6)
    ax.set_ylabel('\u03b5 (cm)', fontsize=FS)
    ax.yaxis.set_label_coords(-0.12, 0.5)
    if i >= 2:
        ax.set_xlabel('Ann\u00e9e', fontsize=FS)
        ax.xaxis.set_label_coords(0.5, -0.25)
    ax.text(pos[0], pos[1], name, transform=ax.transAxes, ha=ha, va='center', fontsize=FS)

fig.savefig('out.png', dpi=100)
